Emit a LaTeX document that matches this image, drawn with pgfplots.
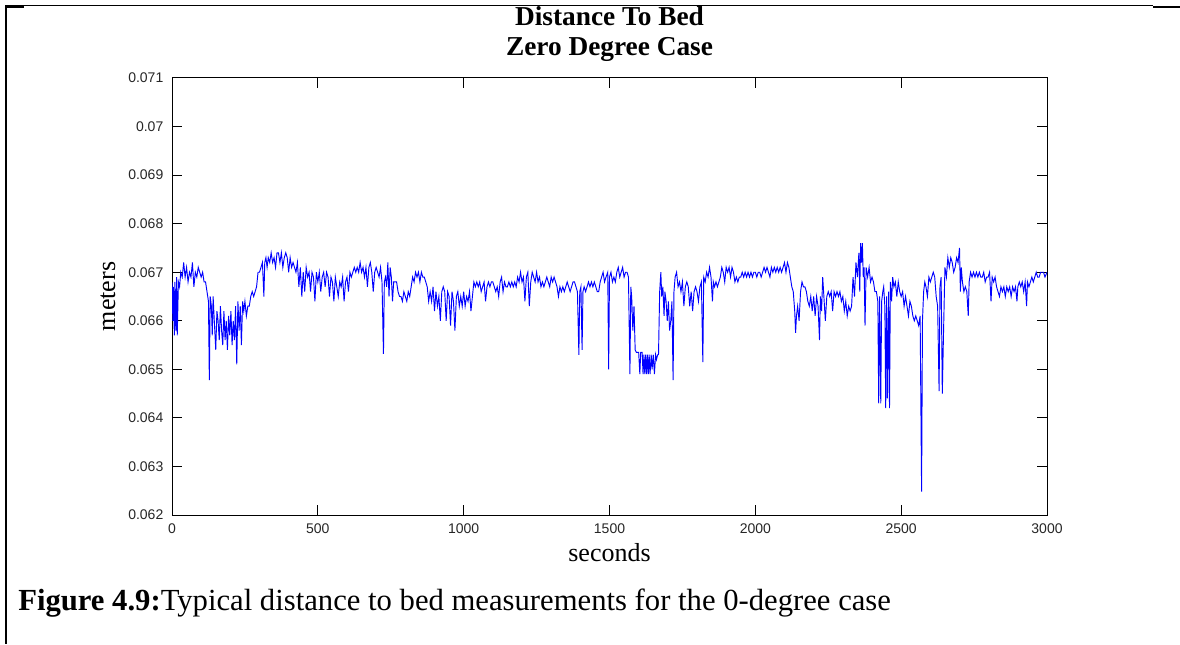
\documentclass[border=0pt]{standalone}
\usepackage{fontspec}
\setmainfont{Liberation Serif}
\newfontfamily\tickfont{Liberation Sans}
\usepackage{pgfplots}
\pgfplotsset{compat=1.18}
\usepackage{pgfplotstable}
\pgfplotstableread{
x y
0 0.0668
3 0.0660
5 0.0667
8 0.0657
10 0.0668
13 0.0658
16 0.0669
18 0.0657
22 0.0668
26 0.0667
30 0.0670
35 0.0669
40 0.0672
45 0.0669
50 0.0671
55 0.0668
60 0.0670
65 0.0669
70 0.0672
75 0.0667
80 0.0670
85 0.0669
90 0.0671
95 0.0670
100 0.0669
105 0.0670
110 0.0668
115 0.0668
120 0.0666
125 0.0664
128 0.06478
131 0.0665
135 0.0663
138 0.0657
141 0.0665
145 0.0660
150 0.0654
154 0.0662
158 0.0660
162 0.0656
166 0.0663
170 0.0658
174 0.0655
178 0.0662
182 0.0656
186 0.0660
190 0.0654
194 0.0661
198 0.0657
202 0.0662
206 0.0655
210 0.0660
214 0.0656
218 0.0663
222 0.0651
226 0.0664
230 0.0658
234 0.0663
238 0.0655
242 0.0664
246 0.0662
250 0.0664
255 0.0661
260 0.0663
265 0.0663
270 0.0665
275 0.0666
280 0.0665
285 0.0666
290 0.0667
295 0.0670
300 0.0670
305 0.0671
310 0.0672
315 0.0665
318 0.0672
322 0.0673
326 0.0671
330 0.0673
335 0.0672
340 0.0674
345 0.0672
350 0.0673
355 0.0671
360 0.0674
365 0.0674
370 0.0672
375 0.0674
380 0.0671
385 0.0673
390 0.0674
395 0.0673
400 0.0670
405 0.0673
410 0.0671
415 0.0672
420 0.0671
425 0.0670
430 0.0672
435 0.0667
440 0.0671
445 0.0665
450 0.0670
455 0.0666
460 0.0671
465 0.0669
470 0.0670
475 0.0666
480 0.0670
485 0.0669
490 0.0664
495 0.0670
500 0.0668
505 0.0670
510 0.0666
515 0.0669
520 0.0670
525 0.0667
530 0.0670
535 0.0669
540 0.0665
545 0.0669
550 0.0668
555 0.0664
560 0.0669
565 0.0667
570 0.0665
575 0.0668
580 0.0667
585 0.0669
590 0.0664
595 0.0668
600 0.0669
605 0.0666
610 0.0670
615 0.0669
620 0.0670
625 0.0671
630 0.0670
635 0.0671
640 0.0670
645 0.0672
650 0.0670
655 0.0671
660 0.0669
665 0.0671
670 0.0667
675 0.0671
680 0.0672
685 0.0670
690 0.0666
695 0.0670
700 0.0671
705 0.0670
710 0.0669
715 0.0671
720 0.0668
725 0.06532
728 0.0668
732 0.0669
736 0.0667
740 0.0672
744 0.0665
748 0.0671
752 0.0669
756 0.0664
760 0.0668
765 0.0668
770 0.0668
775 0.0666
780 0.0665
785 0.0665
790 0.0664
795 0.0666
800 0.0665
805 0.0664
810 0.0666
815 0.0665
820 0.0667
825 0.0669
830 0.0668
835 0.0670
840 0.0669
845 0.0670
850 0.0668
855 0.0670
860 0.0669
865 0.0669
870 0.0668
875 0.0667
880 0.0664
885 0.0666
890 0.0664
895 0.0667
900 0.0662
905 0.0666
910 0.0663
915 0.0665
920 0.0660
925 0.0666
930 0.0667
935 0.0666
940 0.0660
945 0.0666
950 0.0665
955 0.0659
960 0.0666
965 0.0664
970 0.0658
975 0.0665
980 0.0666
985 0.0663
990 0.0665
995 0.0663
1000 0.0666
1005 0.0663
1010 0.0665
1015 0.0664
1020 0.0666
1025 0.0662
1030 0.0665
1035 0.0668
1040 0.0667
1045 0.0668
1050 0.0667
1055 0.0668
1060 0.0666
1065 0.0667
1070 0.0668
1075 0.0664
1080 0.0667
1085 0.0668
1090 0.0667
1095 0.0668
1100 0.0668
1105 0.0667
1110 0.0666
1115 0.0667
1120 0.0665
1125 0.0668
1130 0.0669
1135 0.0666
1140 0.0668
1145 0.0667
1150 0.0667
1155 0.0668
1160 0.0667
1165 0.0668
1170 0.0667
1175 0.0668
1180 0.0667
1185 0.0669
1190 0.0668
1195 0.0670
1200 0.0668
1205 0.0669
1210 0.0664
1215 0.0669
1220 0.0670
1225 0.0663
1230 0.0668
1235 0.0670
1240 0.0669
1245 0.0668
1250 0.0670
1255 0.0668
1260 0.0669
1265 0.0667
1270 0.0668
1275 0.0667
1280 0.0668
1285 0.0669
1290 0.0668
1295 0.0667
1300 0.0669
1305 0.0668
1310 0.0669
1315 0.0668
1320 0.0667
1325 0.0665
1330 0.0667
1335 0.0666
1340 0.0667
1345 0.0666
1350 0.0667
1355 0.0668
1360 0.0667
1365 0.0666
1370 0.0667
1375 0.0668
1380 0.0668
1385 0.0667
1390 0.0666
1395 0.0653
1398 0.0666
1402 0.0667
1406 0.0654
1409 0.0666
1413 0.0667
1418 0.0666
1423 0.0667
1428 0.0668
1433 0.0667
1438 0.0668
1443 0.0667
1448 0.0668
1453 0.0667
1458 0.0666
1463 0.0666
1468 0.0668
1473 0.0669
1478 0.0670
1483 0.0668
1488 0.0669
1494 0.0670
1497 0.0650
1500 0.0669
1505 0.0670
1510 0.0668
1515 0.0669
1520 0.0668
1525 0.0670
1530 0.0671
1535 0.0669
1540 0.0670
1545 0.0671
1550 0.0669
1555 0.0670
1560 0.0670
1565 0.0669
1570 0.0649
1573 0.0667
1576 0.0665
1580 0.0658
1584 0.0663
1588 0.0654
1592 0.06535
1596 0.06535
1600 0.06535
1604 0.0649
1607 0.06535
1612 0.06535
1615 0.0649
1618 0.0653
1621 0.0649
1624 0.0653
1627 0.0649
1630 0.0653
1633 0.0649
1636 0.0653
1639 0.0649
1643 0.0653
1646 0.0650
1650 0.0653
1654 0.0649
1658 0.0653
1661 0.0652
1665 0.0653
1668 0.0653
1672 0.0666
1676 0.0670
1679 0.0665
1683 0.0667
1687 0.0661
1690 0.0666
1694 0.0664
1698 0.0660
1702 0.0664
1706 0.0658
1710 0.0660
1714 0.0664
1718 0.06478
1721 0.0666
1725 0.0669
1730 0.0670
1735 0.0667
1740 0.0668
1745 0.0666
1750 0.0668
1755 0.0663
1760 0.0667
1765 0.0668
1770 0.0667
1775 0.0663
1780 0.0666
1785 0.0662
1790 0.0666
1795 0.0667
1800 0.0666
1805 0.0664
1810 0.0667
1815 0.0668
1820 0.06515
1823 0.0669
1828 0.0668
1833 0.0670
1838 0.0669
1843 0.0671
1848 0.0669
1853 0.0664
1856 0.0668
1860 0.0667
1865 0.0668
1870 0.0667
1875 0.0668
1880 0.0669
1885 0.0671
1890 0.0670
1895 0.0668
1900 0.0671
1905 0.0670
1910 0.0671
1915 0.0669
1920 0.0671
1925 0.0670
1930 0.0668
1935 0.0669
1940 0.0668
1945 0.0669
1950 0.0669
1955 0.0670
1960 0.0669
1965 0.0670
1970 0.0669
1975 0.0670
1980 0.0669
1985 0.0670
1990 0.0669
1995 0.0670
2000 0.0670
2005 0.0669
2010 0.0670
2015 0.0670
2020 0.0669
2025 0.0670
2030 0.0671
2035 0.0670
2040 0.0671
2045 0.0670
2050 0.0669
2055 0.0671
2060 0.0670
2065 0.0671
2070 0.0670
2075 0.0671
2080 0.0670
2085 0.0671
2090 0.0670
2095 0.0671
2100 0.0672
2105 0.0670
2110 0.0672
2115 0.0671
2120 0.0669
2125 0.0667
2130 0.0666
2135 0.0662
2138 0.06575
2141 0.0661
2145 0.0663
2150 0.0660
2155 0.0666
2160 0.0668
2165 0.0667
2170 0.0667
2175 0.0666
2180 0.0664
2185 0.0663
2190 0.0665
2195 0.0662
2200 0.0665
2205 0.0661
2210 0.0665
2215 0.0663
2220 0.0656
2223 0.0665
2227 0.0662
2231 0.0669
2235 0.0665
2240 0.0660
2245 0.0665
2250 0.0666
2255 0.0665
2260 0.0666
2265 0.0662
2270 0.0666
2275 0.0665
2280 0.0666
2285 0.0665
2290 0.0666
2295 0.0664
2300 0.0665
2305 0.0662
2310 0.0664
2315 0.0661
2320 0.0663
2325 0.0662
2330 0.0663
2335 0.0669
2340 0.0665
2345 0.0672
2350 0.0669
2355 0.0674
2358 0.0666
2361 0.0676
2364 0.0672
2367 0.0676
2370 0.0669
2373 0.0671
2376 0.0659
2380 0.0671
2385 0.0669
2390 0.0671
2395 0.0668
2400 0.0669
2405 0.0668
2410 0.0666
2415 0.0666
2420 0.0664
2423 0.0643
2426 0.0665
2430 0.0643
2433 0.0664
2437 0.0666
2440 0.0667
2444 0.0663
2447 0.0642
2450 0.0665
2453 0.0644
2457 0.0666
2460 0.0642
2463 0.0668
2467 0.0664
2471 0.0669
2475 0.0667
2480 0.0668
2485 0.0665
2490 0.0668
2495 0.0666
2500 0.0665
2505 0.0666
2510 0.0663
2515 0.0665
2520 0.0663
2525 0.0661
2530 0.0664
2535 0.0663
2540 0.0661
2545 0.0660
2550 0.0661
2555 0.0660
2560 0.0659
2565 0.0661
2570 0.06248
2573 0.0660
2577 0.0666
2581 0.0668
2585 0.0667
2590 0.0665
2595 0.0669
2600 0.0668
2605 0.0669
2610 0.0670
2615 0.0669
2620 0.0665
2625 0.0663
2630 0.06455
2633 0.0667
2637 0.0669
2641 0.0645
2645 0.0657
2650 0.0671
2655 0.0669
2660 0.0673
2665 0.0671
2670 0.0673
2675 0.0672
2680 0.0670
2685 0.0671
2690 0.0673
2695 0.0672
2700 0.0675
2703 0.0666
2706 0.0671
2710 0.0668
2715 0.0666
2720 0.0667
2725 0.0666
2730 0.0661
2733 0.0668
2738 0.0670
2743 0.0669
2748 0.0670
2753 0.0669
2758 0.0670
2763 0.0669
2768 0.0670
2773 0.0669
2778 0.0669
2783 0.0670
2788 0.0668
2793 0.0669
2798 0.0669
2803 0.0670
2808 0.0664
2812 0.0669
2817 0.0668
2822 0.0669
2827 0.0667
2832 0.0666
2837 0.0665
2842 0.0667
2847 0.0666
2852 0.0667
2857 0.0665
2862 0.0667
2867 0.0666
2872 0.0667
2877 0.0665
2882 0.0667
2887 0.0666
2892 0.0667
2897 0.0664
2900 0.0667
2905 0.0668
2910 0.0667
2915 0.0668
2920 0.0666
2925 0.0668
2930 0.0663
2933 0.0668
2938 0.0667
2943 0.0668
2948 0.0669
2953 0.0668
2958 0.0669
2963 0.0670
2968 0.0669
2973 0.0669
2978 0.0670
2983 0.0670
2988 0.0670
2993 0.0669
3000 0.0670
}\datatable

\begin{document}
\begin{tikzpicture}
\path[use as bounding box] (0,0) rectangle (885pt,483pt);
% frame lines
\draw[line width=0.75pt] (4.5pt,478.5pt) -- (865pt,478.5pt);
\draw[line width=1.6pt] (4.5pt,477.9pt) -- (18pt,477.9pt);
\draw[line width=1.6pt] (864.75pt,477.9pt) -- (885pt,477.9pt);
\draw[line width=1.5pt] (4.5pt,479.2pt) -- (4.5pt,0pt);
\begin{axis}[
  at={(129pt,96.75pt)}, anchor=south west,
  scale only axis,
  width=656.25pt, height=327.75pt,
  xmin=0, xmax=3000, ymin=0.062, ymax=0.071,
  xtick={0,500,1000,1500,2000,2500,3000},
  ytick={0.062,0.063,0.064,0.065,0.066,0.067,0.068,0.069,0.07,0.071},
  scaled y ticks=false, scaled x ticks=false,
  yticklabel style={/pgf/number format/fixed,/pgf/number format/precision=3, xshift=-3pt},
  xticklabel style={/pgf/number format/1000 sep={}, yshift=-3pt},
  /pgf/number format/assume math mode=true,
  tick label style={font=\tickfont\fontsize{10.5}{12}\selectfont, text=black!85},
  tick align=inside, major tick length=7.5pt,
  xtick pos=both, ytick pos=both,
  axis line style={line width=0.75pt},
  every tick/.style={black, line width=0.75pt},
  title={Distance To Bed\\Zero Degree Case},
  title style={font=\bfseries\fontsize{20.5}{22.5}\selectfont, align=center, inner sep=0pt, anchor=south, at={(axis description cs:0.5,1)}, yshift=6pt},
  xlabel={seconds},
  xlabel style={font=\fontsize{19.5}{22}\selectfont, anchor=base, at={(axis description cs:0.5,-0.10526)}},
  ylabel={meters},
  ylabel style={font=\fontsize{19.5}{22}\selectfont, anchor=base, at={(axis description cs:-0.06514,0.5)}},
]
\addplot[color=blue, line width=0.7pt, mark=none] table[x=x, y=y] {\datatable};
\end{axis}
\node[anchor=base west, inner sep=0pt, font=\fontsize{23}{27}\selectfont] at (13.5pt,25pt) {\textbf{Figure 4.9:}Typical distance to bed measurements for the 0-degree case};
\end{tikzpicture}
\end{document}
